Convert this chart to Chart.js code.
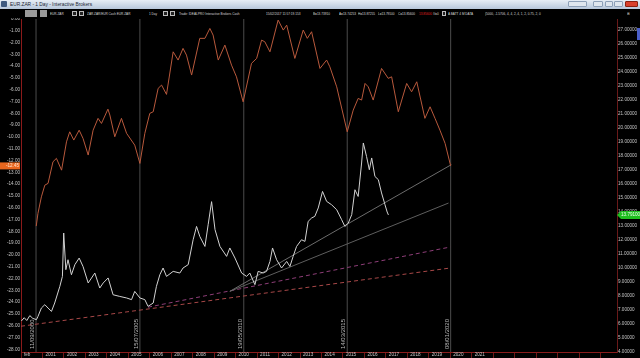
<!DOCTYPE html>
<html><head><meta charset="utf-8">
<script src="https://cdn.jsdelivr.net/npm/chart.js@4/dist/chart.umd.min.js"></script>
<style>
html,body{margin:0;padding:0;background:#000;width:640px;height:358px;overflow:hidden;font-family:'Liberation Sans',Arial,sans-serif;}
#c{position:absolute;left:0;top:0;background:#000;}
#title{position:absolute;left:0;top:0;width:640px;height:9px;background:linear-gradient(#e6edf5,#b7c7db);z-index:2;}
#title .t{position:absolute;left:10px;top:1px;font-size:4.8px;line-height:7px;color:#1b2533;white-space:nowrap;}
#title .ic{position:absolute;left:1px;top:1px;width:6px;height:6px;background:#3e5a80;border-radius:1px;}
.wb{position:absolute;top:1px;height:6px;background:#dfe6ee;border:1px solid #8da0b8;box-sizing:border-box;border-radius:1px;}
#tool{position:absolute;left:0;top:9px;width:640px;height:9px;background:#000;z-index:2;}
#tool span{position:absolute;top:1.5px;font-size:3.9px;line-height:6px;color:#d8d8d8;white-space:nowrap;transform:scaleX(0.8);transform-origin:0 0;}
#tool .bx{position:absolute;top:2px;height:5px;border:1px solid #bbb;box-sizing:border-box;background:#222;}
#tool .gb{position:absolute;top:1px;height:7px;background:#9a9a9a;box-sizing:border-box;}
#blue{position:absolute;left:637px;top:28px;width:3px;height:12px;background:#4a5ec8;z-index:2;}
</style></head>
<body>
<canvas id="c" width="640" height="358"></canvas>
<div id="title"><div class="ic"></div><div class="t">EUR.ZAR - 1 Day - Interactive Brokers</div>
<div class="wb" style="left:568px;width:19px"></div>
<div class="wb" style="left:593px;width:10px"></div>
<div class="wb" style="left:605px;width:8px"></div>
<div class="wb" style="left:614px;width:9px"></div>
<div class="wb" style="left:625px;width:13px;background:#d9402c;border-color:#8a2010"></div>
</div>
<div id="tool">
<div class="gb" style="left:25px;width:12px"></div>
<div class="gb" style="left:40px;width:7px"></div>
<span style="left:50px">EUR.ZAR</span>
<div class="bx" style="left:72px;width:5px"></div>
<div class="bx" style="left:79px;width:5px"></div>
<span style="left:87px">ZAR.ZAR/EUR Cash EUR.ZAR</span>
<span style="left:149px">1 Day</span>
<div class="bx" style="left:163px;width:5px"></div>
<div class="bx" style="left:170px;width:5px"></div>
<span style="left:179px">Trade: IDEALPRO  Interactive Brokers  Cash</span>
<span style="left:266px">15/02/2017  11:57:19.153</span>
<span style="left:313px">B=13.73910</span>
<span style="left:339px">A=13.74253</span>
<span style="left:358px">H=13.87255</span>
<span style="left:378px">L=13.79100</span>
<span style="left:398px">C=13.85600</span>
<span style="left:419px;color:#e02020">13.85600</span>
<span style="left:433px">V=0</span>
<div class="bx" style="left:442px;width:4px"></div>
<span style="left:448px">A BATT 4 M DATA</span>
<span style="left:485px">(5000, -1.5706, 4, 4, 2, 4, 1, 2, 0.75, 2, 0</span>
<span style="left:627px">&#8862;</span>
</div>
<div id="blue"></div>
<script>
// ---- data ----
const xTickLabels = ['feb','2001','2002','2003','2004','2005','2006','2007','2008','2009','2010','2011','2012','2013','2014','2015','2016','2017','2018','2019','2020','2021'];
const xTickYears = [2000,2001,2002,2003,2004,2005,2006,2007,2008,2009,2010,2011,2012,2013,2014,2015,2016,2017,2018,2019,2020,2021,2022,2023,2024,2025,2026,2027];

// EUR.ZAR price (right axis)
const priceDates = [2000.02,2000.15,2000.27,2000.41,2000.55,2000.72,2000.79,2000.95,2001.11,2001.26,2001.42,2001.57,2001.81,2001.93,2001.99,2002.09,2002.19,2002.35,2002.51,2002.71,2002.89,2003.13,2003.44,2003.67,2003.83,2004.06,2004.29,2004.60,2004.92,2005.15,2005.30,2005.54,2005.77,2005.92,2006.16,2006.31,2006.47,2006.62,2006.78,2007.09,2007.40,2007.55,2007.79,2008.02,2008.18,2008.33,2008.57,2008.72,2008.88,2009.04,2009.27,2009.58,2009.73,2009.97,2010.28,2010.51,2010.66,2010.90,2011.05,2011.28,2011.44,2011.60,2011.72,2011.91,2012.14,2012.38,2012.53,2012.68,2012.84,2013.07,2013.23,2013.38,2013.54,2013.69,2013.85,2014.05,2014.24,2014.47,2014.71,2014.94,2015.09,2015.25,2015.41,2015.56,2015.71,2015.87,2015.95,2016.10,2016.23,2016.34,2016.49,2016.65,2016.80,2016.96,2017.06,2017.12];
const priceValues = [6.22,6.45,6.25,6.60,6.40,6.31,6.54,7.14,7.38,7.14,6.90,7.50,8.69,9.40,12.50,9.88,10.59,9.52,10.24,10.71,10.11,8.93,9.64,8.57,8.93,9.29,8.09,7.97,7.86,7.74,8.33,7.86,7.74,7.26,7.50,8.69,9.52,10.00,9.40,9.76,9.64,10.00,10.24,12.02,12.97,12.26,11.54,13.09,14.74,12.74,11.54,10.83,11.43,10.71,9.64,9.40,9.64,8.81,9.76,9.64,9.76,10.47,11.43,10.59,10.00,10.47,10.11,10.83,11.54,12.02,11.90,13.33,13.57,13.69,14.29,15.47,14.76,14.52,14.16,13.45,12.97,13.21,13.81,15.59,15.11,17.50,18.93,17.97,17.02,17.86,16.54,16.31,15.36,14.52,14.00,13.791];

// A BATT 4 M DATA cycle indicator (left axis)
const cycleDates = [2000.71,2000.79,2000.95,2001.11,2001.26,2001.49,2001.65,2001.89,2002.12,2002.27,2002.46,2002.71,2002.89,2003.13,2003.36,2003.59,2003.75,2004.05,2004.14,2004.37,2004.68,2004.92,2005.30,2005.54,2005.77,2006.00,2006.16,2006.39,2006.55,2006.78,2007.09,2007.32,2007.55,2007.71,2007.95,2008.33,2008.57,2008.80,2008.95,2009.19,2009.50,2009.81,2010.04,2010.35,2010.74,2010.98,2011.21,2011.36,2011.60,2011.98,2012.22,2012.38,2012.76,2013.15,2013.34,2013.54,2013.93,2014.24,2014.39,2014.71,2015.20,2015.48,2015.71,2015.87,2016.03,2016.18,2016.41,2016.80,2017.11,2017.27,2017.58,2017.97,2018.20,2018.44,2018.82,2019.06,2019.29,2019.52,2019.76,2020.02];
const cycleValues = [-17.55,-16.47,-15.07,-14.08,-13.93,-12.10,-11.81,-12.81,-10.41,-9.56,-10.26,-9.42,-10.12,-11.53,-9.42,-8.42,-8.85,-7.64,-8.14,-9.98,-8.42,-9.69,-10.69,-12.24,-9.69,-8.00,-7.86,-5.88,-5.60,-6.39,-2.78,-3.48,-2.49,-3.06,-4.75,-1.64,-1.64,-0.80,-1.36,-3.48,-2.21,-3.91,-4.90,-7.02,-3.76,-3.34,-1.79,-1.93,-2.78,-0.09,-0.94,-0.52,-3.34,-0.94,-1.64,-1.08,-4.19,-3.48,-4.05,-5.75,-9.56,-7.72,-6.73,-6.87,-5.46,-5.75,-6.87,-4.19,-5.03,-4.90,-7.86,-5.46,-6.17,-5.32,-8.42,-7.44,-8.42,-9.42,-10.54,-12.45];

// trend lines (right axis)
const trendA = {dates:[2000.0,2020.0], values:[5.84,10.0]};
const trendB = {dates:[2005.92,2020.0], values:[7.20,11.50]};
const trendC = {dates:[2009.73,2020.05], values:[8.33,17.38]};
const trendD = {dates:[2009.73,2019.92], values:[8.33,14.64]};

// cycle markers
const markDates = [2000.70,2005.54,2010.38,2015.20,2020.02];
const markLabels = ['11/09/2000','15/07/2005','19/05/2010','14/03/2015','08/01/2020'];

// axis ranges
const yRMin = 4, yRMax = 27.786;
const yLMin = -28.22, yLMax = 0;

// ---- build ----
const pts = (d, v) => d.map((x, i) => ({x, y: v[i]}));
const FONT = {family:"'Liberation Sans', Arial, sans-serif", size:4.6};

const datasets = [
  {data: pts(priceDates, priceValues), yAxisID:'yR', borderColor:'#d2d2d2', borderWidth:1},
  {data: pts(cycleDates, cycleValues), yAxisID:'yL', borderColor:'#b8593c', borderWidth:1},
  {data: pts(trendC.dates, trendC.values), yAxisID:'yR', borderColor:'#6c6c6c', borderWidth:1},
  {data: pts(trendD.dates, trendD.values), yAxisID:'yR', borderColor:'#5e5e5e', borderWidth:1},
  {data: pts(trendB.dates, trendB.values), yAxisID:'yR', borderColor:'#8e3e78', borderWidth:1, borderDash:[4,3]},
  {data: pts(trendA.dates, trendA.values), yAxisID:'yR', borderColor:'#a84848', borderWidth:1, borderDash:[4,3]},
];
markDates.forEach(d => datasets.push({data: pts([d,d],[yRMin,yRMax]), yAxisID:'yR', borderColor:'#4c4c4c', borderWidth:1}));

const overlay = {
  id:'overlay',
  afterDraw(chart){
    const c = chart.ctx, xs = chart.scales.x, yL = chart.scales.yL, yR = chart.scales.yR;
    c.save();
    c.font = "6px 'Liberation Sans', Arial, sans-serif";
    c.fillStyle = '#b8b8b8';
    markDates.forEach((d,i) => {
      const px = xs.getPixelForValue(d);
      c.save(); c.translate(px-0.5, 349); c.rotate(-Math.PI/2);
      c.textAlign='left'; c.textBaseline='bottom';
      c.fillText(markLabels[i], 0, 0); c.restore();
    });
    // left orange value tag
    const lv = cycleValues[cycleValues.length-1];
    const oy = yL.getPixelForValue(lv);
    c.fillStyle = '#e8661e'; c.fillRect(0, oy-3.5, 20, 7);
    c.fillStyle = '#ffe6d2'; c.font = "4.6px 'Liberation Sans', Arial, sans-serif";
    c.textAlign='right'; c.textBaseline='middle';
    c.fillText(lv.toFixed(2), 19, oy);
    // right green value tag
    const rv = priceValues[priceValues.length-1];
    const gy = yR.getPixelForValue(rv);
    c.fillStyle = '#1fbe1f';
    c.beginPath(); c.moveTo(617, gy); c.lineTo(621, gy-4); c.lineTo(640, gy-4); c.lineTo(640, gy+4); c.lineTo(621, gy+4); c.closePath(); c.fill();
    c.fillStyle = '#eaffea'; c.textAlign='left';
    c.fillText(rv.toFixed(5), 621, gy);
    c.restore();
  }
};

new Chart(document.getElementById('c'), {
  type:'line',
  data:{datasets},
  options:{
    responsive:false, animation:false, devicePixelRatio:1,
    layout:{padding:{top:19,left:0,right:0,bottom:0}},
    plugins:{legend:{display:false}, tooltip:{enabled:false}},
    elements:{point:{radius:0}, line:{tension:0}},
    scales:{
      x:{type:'linear', min:2000, max:2027.77,
        afterBuildTicks:(s)=>{ s.ticks = xTickYears.map(v=>({value:v})); },
        ticks:{callback:(v)=>{ const l = xTickLabels[Math.round(v)-2000]; return l===undefined?'':l; },
          font:FONT, color:'#c8c8c8', align:'start', labelOffset:3, maxRotation:0, minRotation:0, autoSkip:false, padding:-6, includeBounds:false},
        grid:{drawOnChartArea:false, color:'#6e1818', tickLength:6},
        border:{color:'#8a1c1c'},
        afterFit:(s)=>{ s.height = 6; }
      },
      yL:{type:'linear', position:'left', min:yLMin, max:yLMax,
        ticks:{stepSize:1, includeBounds:false, callback:(v)=>Number(v).toFixed(2), font:FONT, color:'#c4c4c4', padding:1},
        grid:{display:false, drawTicks:false},
        border:{color:'#8b1a1a'},
        afterFit:(s)=>{ s.width = 21; }
      },
      yR:{type:'linear', position:'right', min:yRMin, max:yRMax,
        ticks:{stepSize:1, includeBounds:false, callback:(v)=>Number(v).toFixed(5), font:FONT, color:'#c4c4c4', padding:1},
        grid:{display:false, drawTicks:false},
        border:{color:'#6a1a1a'},
        afterFit:(s)=>{ s.width = 23; }
      }
    }
  },
  plugins:[overlay]
});
</script>
</body></html>
